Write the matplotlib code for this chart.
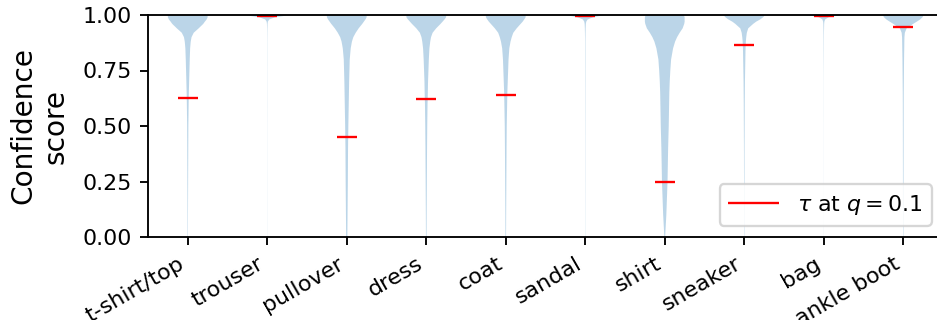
import numpy as np
import matplotlib
matplotlib.use('Agg')
import matplotlib.pyplot as plt

# クラス名
classes = ['t-shirt/top', 'trouser', 'pullover', 'dress', 'coat',
           'sandal', 'shirt', 'sneaker', 'bag', 'ankle boot']

# q = 0.1 における閾値 tau
tau = [0.625, 0.997, 0.449, 0.620, 0.640, 0.995, 0.249, 0.863, 0.995, 0.944]

# 密度プロファイルの評価点 (confidence score)
score_grid = [0.0, 0.1, 0.25, 0.4, 0.5, 0.6, 0.65, 0.7, 0.75, 0.8, 0.85,
              0.88, 0.9, 0.92, 0.94, 0.96, 0.97, 0.98, 0.99, 0.995, 1.0]

# 各クラスの相対密度
dens_tshirt = [0.01, 0.012, 0.018, 0.025, 0.03, 0.045, 0.055, 0.07, 0.085, 0.1, 0.12,
               0.15, 0.19, 0.3, 0.55, 0.78, 0.86, 0.95, 1.0, 1.0, 0.98]
dens_trouser = [0.003, 0.003, 0.003, 0.003, 0.003, 0.004, 0.004, 0.004, 0.004, 0.005, 0.005,
                0.005, 0.006, 0.007, 0.01, 0.015, 0.03, 0.1, 0.4, 0.8, 1.0]
dens_pullover = [0.03, 0.04, 0.055, 0.065, 0.08, 0.1, 0.11, 0.12, 0.135, 0.15, 0.2,
                 0.26, 0.33, 0.45, 0.6, 0.78, 0.86, 0.94, 1.0, 1.0, 0.98]
dens_dress = [0.015, 0.02, 0.03, 0.04, 0.05, 0.065, 0.08, 0.09, 0.11, 0.13, 0.16,
              0.2, 0.24, 0.32, 0.5, 0.72, 0.82, 0.92, 1.0, 1.0, 0.98]
dens_coat = [0.015, 0.02, 0.03, 0.04, 0.05, 0.07, 0.08, 0.1, 0.12, 0.14, 0.18,
             0.24, 0.3, 0.38, 0.55, 0.75, 0.85, 0.93, 1.0, 1.0, 0.98]
dens_sandal = [0.005, 0.005, 0.006, 0.006, 0.007, 0.008, 0.008, 0.009, 0.009, 0.01, 0.01,
               0.01, 0.012, 0.015, 0.02, 0.03, 0.05, 0.12, 0.4, 0.7, 1.0]
dens_shirt = [0.02, 0.08, 0.14, 0.17, 0.2, 0.22, 0.23, 0.25, 0.28, 0.32, 0.42,
              0.52, 0.62, 0.75, 0.9, 0.98, 1.0, 1.0, 1.0, 0.98, 0.95]
dens_sneaker = [0.008, 0.01, 0.012, 0.015, 0.02, 0.025, 0.03, 0.035, 0.045, 0.055, 0.065,
                0.08, 0.1, 0.13, 0.2, 0.45, 0.6, 0.8, 0.95, 1.0, 1.0]
dens_bag = [0.002, 0.002, 0.002, 0.002, 0.002, 0.003, 0.003, 0.003, 0.004, 0.006, 0.008,
            0.009, 0.01, 0.012, 0.015, 0.02, 0.03, 0.07, 0.25, 0.55, 1.0]
dens_ankle = [0.01, 0.012, 0.015, 0.018, 0.02, 0.022, 0.025, 0.03, 0.035, 0.04, 0.05,
              0.055, 0.06, 0.08, 0.17, 0.5, 0.68, 0.85, 0.97, 1.0, 1.0]

densities = [dens_tshirt, dens_trouser, dens_pullover, dens_dress, dens_coat,
             dens_sandal, dens_shirt, dens_sneaker, dens_bag, dens_ankle]

positions = np.arange(1, len(classes) + 1)

# matplotlib の violin() 用の統計量
vpstats = []
for d, t in zip(densities, tau):
    vpstats.append({
        'coords': np.array(score_grid),
        'vals': np.array(d),
        'mean': t, 'median': t,
        'min': score_grid[0], 'max': score_grid[-1],
    })

DPI = 168
fig = plt.figure(figsize=(937 / DPI, 320 / DPI), dpi=DPI)
ax = fig.add_axes([148 / 937, 83 / 320, 795 / 937, 222 / 320])

parts = ax.violin(vpstats, positions=positions, widths=0.5,
                  showmeans=False, showextrema=False, showmedians=False)
for body in parts['bodies']:
    body.set_facecolor('#1f77b4')
    body.set_alpha(0.3)
    body.set_linewidth(0)

ax.hlines(tau, positions - 0.125, positions + 0.125, colors='red',
          linewidth=1.0, label=r'$\tau$ at $q=0.1$')

ax.set_xlim(0.5, 10.5)
ax.set_ylim(0, 1)
ax.set_yticks([0, 0.25, 0.5, 0.75, 1.0])
ax.set_yticklabels(['0.00', '0.25', '0.50', '0.75', '1.00'])
ax.set_xticks(positions)
ax.set_xticklabels(classes, rotation=30, ha='right')
ax.tick_params(labelsize=9.5)
ax.set_ylabel('Confidence\nscore', fontsize=12, labelpad=5.5)
ax.legend(loc='lower right', fontsize=9.5, handlelength=2.3)

fig.savefig('out.png', dpi=DPI)
